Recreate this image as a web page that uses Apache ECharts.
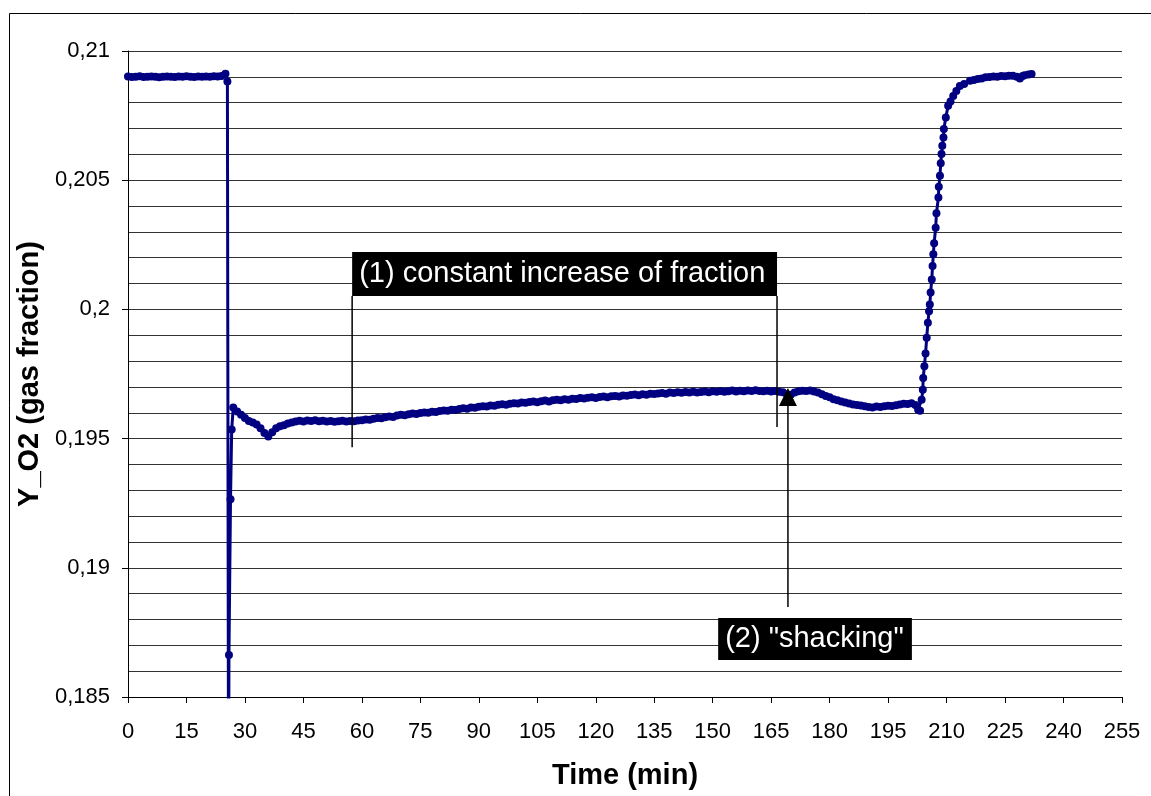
<!DOCTYPE html>
<html>
<head>
<meta charset="utf-8">
<script src="https://cdn.jsdelivr.net/npm/echarts@6/dist/echarts.min.js"></script>
<style>
  html, body { margin: 0; padding: 0; background: #fff; }
  #o2chart { width: 1151px; height: 796px; }
</style>
</head>
<body>
<div id="o2chart"></div>
<script>
// Y_O2 readings [time (min), gas fraction]
const startPlateau = [
  [0,0.20901],[1,0.20899],[2,0.20900],[3,0.20902],[4,0.20899],[5,0.20900],[6,0.20901],[7,0.20900],
  [8,0.20898],[9,0.20900],[10,0.20901],[11,0.20900],[12,0.20899],[13,0.20901],[14,0.20900],[15,0.20902],
  [16,0.20900],[17,0.20899],[18,0.20901],[19,0.20900],[20,0.20901],[21,0.20900],[22,0.20902],[23,0.20901],
  [24,0.20903],[25,0.20912]
];
const dropPoints = [
  [25.5,0.20882],[25.8,0.18000],[25.9,0.18663],[26.3,0.19265],[26.6,0.19535],[27,0.19620]
];
const midPhase = [
  [28,0.19605],[29,0.19592],[30,0.19580],[31,0.19568],[32,0.19562],[33,0.19555],[34,0.19540],[35,0.19522],[36,0.19508],[37,0.19525],
  [38,0.19540],[39,0.19548],[40,0.19552],[41,0.19558],[42,0.19562],[43,0.19566],[44,0.19569],[45,0.19566],[46,0.19570],[47,0.19568],
  [48,0.19571],[49,0.19567],[50,0.19569],[51,0.19566],[52,0.19568],[53,0.19565],[54,0.19567],[55,0.19569],[56,0.19566],[57,0.19568],
  [58,0.19567],[59,0.19570],[60,0.19571],[61,0.19574],[62,0.19573],[63,0.19577],[64,0.19580],[65,0.19579],[66,0.19583],[67,0.19586],
  [68,0.19584],[69,0.19589],[70,0.19592],[71,0.19590],[72,0.19594],[73,0.19597],[74,0.19595],[75,0.19599],[76,0.19601],[77,0.19600],
  [78,0.19604],[79,0.19603],[80,0.19607],[81,0.19609],[82,0.19608],[83,0.19612],[84,0.19611],[85,0.19615],[86,0.19617],[87,0.19616],
  [88,0.19620],[89,0.19619],[90,0.19623],[91,0.19625],[92,0.19624],[93,0.19628],[94,0.19627],[95,0.19631],[96,0.19633],[97,0.19631],
  [98,0.19635],[99,0.19637],[100,0.19636],[101,0.19640],[102,0.19639],[103,0.19642],[104,0.19644],[105,0.19641],[106,0.19645],[107,0.19647],
  [108,0.19644],[109,0.19648],[110,0.19650],[111,0.19648],[112,0.19652],[113,0.19650],[114,0.19654],[115,0.19653],[116,0.19657],[117,0.19655],
  [118,0.19658],[119,0.19660],[120,0.19657],[121,0.19661],[122,0.19663],[123,0.19660],[124,0.19664],[125,0.19665],[126,0.19663],[127,0.19667],
  [128,0.19666],[129,0.19669],[130,0.19671],[131,0.19668],[132,0.19672],[133,0.19670],[134,0.19674],[135,0.19673],[136,0.19675],[137,0.19676],
  [138,0.19674],[139,0.19678],[140,0.19676],[141,0.19679],[142,0.19677],[143,0.19680],[144,0.19678],[145,0.19681],[146,0.19678],[147,0.19680],
  [148,0.19682],[149,0.19679],[150,0.19683],[151,0.19681],[152,0.19684],[153,0.19681],[154,0.19683],[155,0.19686],[156,0.19682],[157,0.19685],
  [158,0.19683],[159,0.19686],[160,0.19684],[161,0.19687],[162,0.19684],[163,0.19683],[164,0.19685],[165,0.19682],[166,0.19684],[167,0.19681],
  [168,0.19679],[169,0.19672],[170,0.19670],[171,0.19678],[172,0.19683],[173,0.19685],[174,0.19684],[175,0.19686],[176,0.19682],[177,0.19678],
  [178,0.19672],[179,0.19665],[180,0.19660],[181,0.19652],[182,0.19648],[183,0.19644],[184,0.19640],[185,0.19636],[186,0.19632],[187,0.19630],
  [188,0.19628],[189,0.19625],[190,0.19622],[191,0.19620],[192,0.19624],[193,0.19622],[194,0.19625],[195,0.19627],[196,0.19626],[197,0.19629],
  [198,0.19632],[199,0.19635],[200,0.19634],[201,0.19637],[202,0.19630]
];
const riseEnd = [
  [202.7,0.19612],[203.2,0.19608],[203.6,0.19650],[203.9,0.19689],[204.0,0.19735],[204.3,0.19780],[204.6,0.19829],[204.9,0.19890],
  [205.2,0.19948],[205.5,0.19993],[205.7,0.20019],[205.9,0.20065],[206.2,0.20116],[206.4,0.20168],[206.6,0.20213],[206.8,0.20256],
  [207.2,0.20316],[207.4,0.20372],[207.9,0.20433],[208.0,0.20475],[208.3,0.20517],[208.5,0.20566],[208.7,0.20601],[208.9,0.20633],
  [209.2,0.20665],[209.3,0.20698],[209.8,0.20743],[210.4,0.20788],[211.0,0.20805],[211.7,0.20826],[212.5,0.20845],[213.4,0.20865],
  [214.5,0.20872],[216,0.20885],[217,0.20888],[218,0.20892],[219,0.20894],[220,0.20898],[221,0.20899],[222,0.20901],
  [223,0.20900],[224,0.20903],[225,0.20902],[226,0.20904],[227,0.20904],[228,0.20900],[228.8,0.20894],[229.5,0.20903],
  [230,0.20906],[231,0.20909],[231.8,0.20911]
];

// annotation anchors in data units
const note1 = { text: '(1) constant increase of fraction', left: 57.5, right: 166.5, top: 0.20222, bottom: 0.20052, leftEnd: 0.19467, rightEnd: 0.19545 };
const note2 = { text: '(2) "shacking"', left: 151.4, right: 201.1, top: 0.18806, bottom: 0.18643 };
const arrow2 = { t: 169.3, from: 0.18848, tip: 0.19696, base: 0.19626 };

const FONT = '"Liberation Sans", Arial, sans-serif';

let myChart = echarts.init(document.getElementById('o2chart'));
let option = {
    animation: false,
    backgroundColor: '#fff',
    grid: { left: 128, right: 29, top: 51, bottom: 99, outerBoundsMode: 'none', containLabel: false },
    xAxis: {
        type: 'value',
        min: 0,
        max: 255,
        interval: 15,
        name: 'Time (min)',
        nameLocation: 'middle',
        nameGap: 64,
        nameTextStyle: { fontSize: 29, fontWeight: 'bold', color: '#000', fontFamily: FONT },
        axisLine: { lineStyle: { color: '#000', width: 1 } },
        axisTick: { show: true, length: 6, lineStyle: { color: '#000' } },
        axisLabel: { fontSize: 22, color: '#000', margin: 24, fontFamily: FONT },
        splitLine: { show: false }
    },
    yAxis: {
        type: 'value',
        min: 0.185,
        max: 0.21,
        interval: 0.005,
        name: 'Y_O2 (gas fraction)',
        nameLocation: 'middle',
        nameGap: 76,
        nameTextStyle: { fontSize: 29, fontWeight: 'bold', color: '#000', fontFamily: FONT },
        axisLine: { show: true, lineStyle: { color: '#000', width: 1 } },
        axisTick: { show: true, length: 6, lineStyle: { color: '#000' } },
        axisLabel: {
            fontSize: 22, color: '#000', margin: 18, fontFamily: FONT,
            formatter: function (v) { return String(+v.toFixed(3)).replace('.', ','); }
        },
        splitLine: { show: true, lineStyle: { color: '#333', width: 1 } },
        minorTick: { show: false, splitNumber: 5 },
        minorSplitLine: { show: true, lineStyle: { color: '#333', width: 1 } }
    },
    series: [{
        type: 'line',
        data: startPlateau.concat(dropPoints, midPhase, riseEnd),
        symbol: 'circle',
        symbolSize: 8,
        showSymbol: true,
        clip: true,
        lineStyle: { color: '#000080', width: 3 },
        itemStyle: { color: '#000080' }
    }]
};
myChart.setOption(option);

function px(t, v) { return myChart.convertToPixel({ gridIndex: 0 }, [t, v]); }

let a = px(note1.left, note1.top), b = px(note1.right, note1.bottom);
let l1 = px(note1.left, note1.leftEnd), r1 = px(note1.right, note1.rightEnd);
let c = px(note2.left, note2.top), d = px(note2.right, note2.bottom);
let s0 = px(arrow2.t, arrow2.from), tip = px(arrow2.t, arrow2.tip), base = px(arrow2.t, arrow2.base);

myChart.setOption({
    graphic: [
        { type: 'rect', z: 0, silent: true, shape: { x: 9.5, y: 13.5, width: 1300, height: 1000 },
          style: { fill: 'none', stroke: '#000', lineWidth: 1 } },
        // note 1
        { type: 'line', z: 50, shape: { x1: l1[0], y1: b[1], x2: l1[0], y2: l1[1] }, style: { stroke: '#000', lineWidth: 1.5 } },
        { type: 'line', z: 50, shape: { x1: r1[0], y1: b[1], x2: r1[0], y2: r1[1] }, style: { stroke: '#000', lineWidth: 1.5 } },
        { type: 'rect', z: 51, shape: { x: a[0], y: a[1], width: b[0] - a[0], height: b[1] - a[1] }, style: { fill: '#000' } },
        { type: 'text', z: 52, x: a[0] + 7, y: (a[1] + b[1]) / 2,
          style: { text: note1.text, fill: '#fff', fontSize: 29, fontFamily: FONT, align: 'left', verticalAlign: 'middle' } },
        // note 2 with arrow
        { type: 'line', z: 50, shape: { x1: s0[0], y1: s0[1], x2: base[0], y2: base[1] }, style: { stroke: '#000', lineWidth: 1.5 } },
        { type: 'polygon', z: 50, shape: { points: [[tip[0], tip[1]], [base[0] - 9, base[1]], [base[0] + 9, base[1]]] }, style: { fill: '#000' } },
        { type: 'rect', z: 51, shape: { x: c[0], y: c[1], width: d[0] - c[0], height: d[1] - c[1] }, style: { fill: '#000' } },
        { type: 'text', z: 52, x: c[0] + 7, y: (c[1] + d[1]) / 2,
          style: { text: note2.text, fill: '#fff', fontSize: 29, fontFamily: FONT, align: 'left', verticalAlign: 'middle' } }
    ]
});

window.addEventListener("resize", function () {
    myChart.resize();
});
</script>
</body>
</html>
